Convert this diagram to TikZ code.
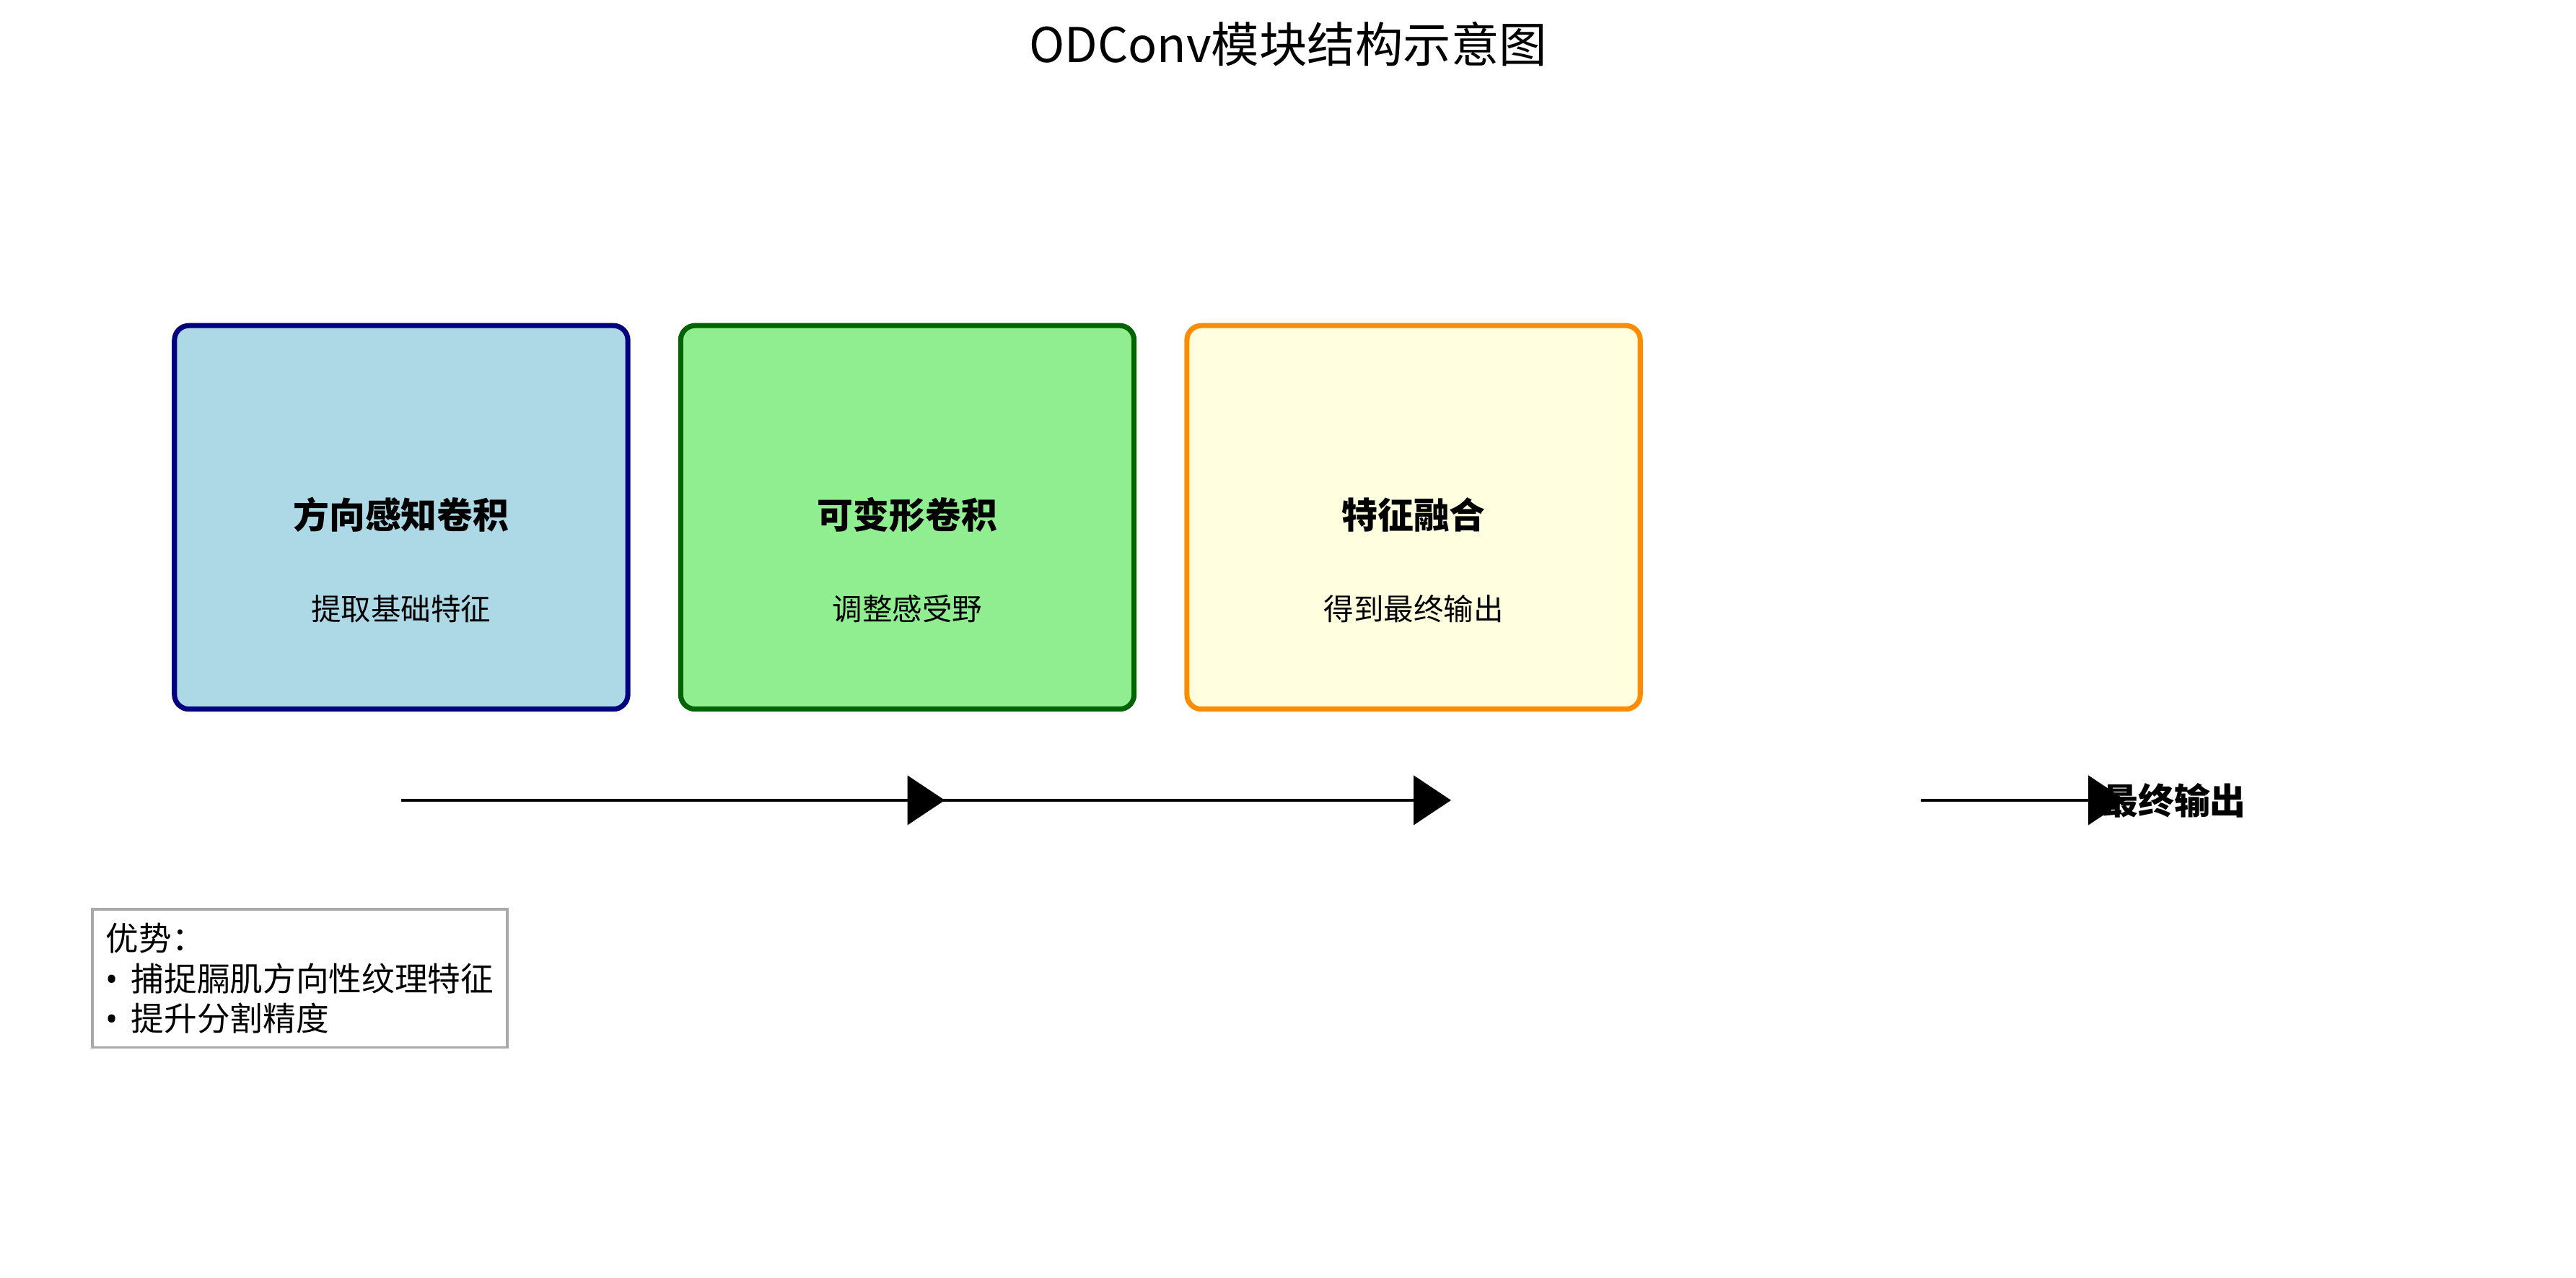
\documentclass[tikz,border=0pt]{standalone}
\usepackage{fontspec}
\setmainfont{Noto Sans CJK SC}
\newfontfamily\latinfont{Noto Sans}
\usetikzlibrary{arrows.meta, positioning, calc}

\definecolor{boxblue}{HTML}{ADD8E6}
\definecolor{edgeblue}{HTML}{000080}
\definecolor{boxgreen}{HTML}{90EE90}
\definecolor{edgegreen}{HTML}{006400}
\definecolor{boxyellow}{HTML}{FFFFE0}
\definecolor{edgeorange}{HTML}{FF8C00}
\definecolor{notegray}{HTML}{A9A9A9}

\begin{document}
\begin{tikzpicture}[>={Triangle[length=0.44cm, width=0.576cm]},
        every node/.style={font=\fontsize{10}{12}\selectfont},
        stage/.style={draw, line width=1.7pt, rounded corners=0.17cm, minimum width=5.32cm, minimum height=4.5cm, inner sep=0pt},
        stagetitle/.style={font=\fontsize{12}{14}\selectfont\bfseries},
        flow/.style={->, line width=1.1pt}]
        \useasboundingbox (0,0) rectangle (30.226,14.994);

        % Titel
        \node[font=\fontsize{16}{19}\selectfont] (title) at (15.113,14.478) {ODConv模块结构示意图};

        % Drei Stufen
        \node[stage, draw=edgeblue, fill=boxblue] (b1) at (4.707,8.924) {};
        \node[stage, draw=edgegreen, fill=boxgreen, right=0.56cm of b1] (b2) {};
        \node[stage, draw=edgeorange, fill=boxyellow, right=0.56cm of b2] (b3) {};

        % Beschriftungen
        \def\sub{1.075}
        \node[stagetitle] (t1) at ([yshift=0.03cm]b1.center) {方向感知卷积};
        \node (s1) at ([yshift=-\sub cm]b1.center) {提取基础特征};
        \node[stagetitle] (t2) at ([yshift=0.03cm]b2.center) {可变形卷积};
        \node (s2) at ([yshift=-\sub cm]b2.center) {调整感受野};
        \node[stagetitle] (t3) at ([yshift=0.03cm]b3.center) {特征融合};
        \node (s3) at ([yshift=-\sub cm]b3.center) {得到最终输出};

        % Pfeile unter den Stufen
        \coordinate (row) at (0,5.605);
        \coordinate (a1) at (b1.center |- row);
        \coordinate (a2) at (b2.center |- row);
        \coordinate (a3) at (b3.center |- row);
        \coordinate (e1) at ($(a2)+(0.44,0)$);
        \coordinate (e2) at ($(a3)+(0.44,0)$);
        \draw[flow] (a1) -- (e1);
        \draw[flow] (a2) -- (e2);

        % Ausgang
        \coordinate (a4) at (22.538,5.605);
        \coordinate (e4) at (24.943,5.605);
        \draw[flow] (a4) -- (e4);
        \node[stagetitle] (out) at (25.51,5.605) {最终输出};

        % Vorteile
        \node[draw=notegray, line width=0.9pt, fill=white, align=left, inner xsep=0.16cm, minimum height=1.62cm,
            font=\fontsize{11}{13.4}\selectfont] (note) at (3.518,3.514)
            {优势：\\{\latinfont •}\, 捕捉膈肌方向性纹理特征\\{\latinfont •}\, 提升分割精度};

    \end{tikzpicture}
\end{document}
